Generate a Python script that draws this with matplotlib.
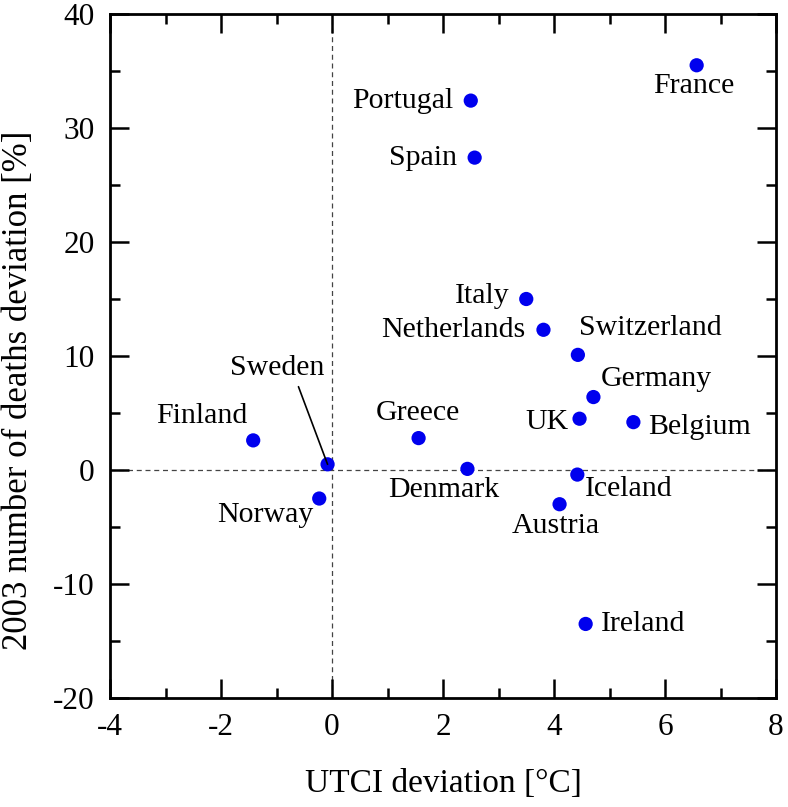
import numpy as np
import matplotlib.pyplot as plt
from matplotlib.ticker import MultipleLocator

countries = ['France', 'Portugal', 'Spain', 'Italy', 'Netherlands', 'Switzerland',
             'Germany', 'UK', 'Belgium', 'Greece', 'Denmark', 'Iceland',
             'Austria', 'Ireland', 'Finland', 'Norway', 'Sweden']
utci_dev = np.array([6.57, 2.50, 2.57, 3.50, 3.81, 4.43,
                     4.71, 4.46, 5.43, 1.56, 2.44, 4.42,
                     4.10, 4.57, -1.42, -0.23, -0.08])
deaths_dev = np.array([35.5, 32.4, 27.4, 15.0, 12.3, 10.1,
                       6.4, 4.5, 4.2, 2.8, 0.1, -0.4,
                       -3.0, -13.5, 2.6, -2.5, 0.5])

# label placement: offset in pixels from the dot, horizontal alignment
label_pos = {
    'France': (-3, -21, 'center'),
    'Portugal': (-17, 0, 'right'),
    'Spain': (-18, 0, 'right'),
    'Italy': (-17, 3, 'right'),
    'Netherlands': (-18, 0, 'right'),
    'Switzerland': (1, 27, 'left'),
    'Germany': (7, 18, 'left'),
    'UK': (-11, -3, 'right'),
    'Belgium': (15, -5, 'left'),
    'Greece': (-1, 25, 'center'),
    'Denmark': (-24, -21, 'center'),
    'Iceland': (8, -14, 'left'),
    'Austria': (-4, -22, 'center'),
    'Ireland': (15, 0, 'left'),
    'Finland': (-51, 24, 'center'),
    'Norway': (-54, -16, 'center'),
    'Sweden': (-50, 96, 'center'),
}

plt.rcParams['font.family'] = ['Liberation Serif', 'DejaVu Serif']
plt.rcParams['axes.unicode_minus'] = False

fig = plt.figure(figsize=(7.88, 8.07), dpi=100)
ax = fig.add_axes([0.1396, 0.135, 0.8452, 0.8477])

ax.axhline(0, color='#444444', lw=0.9, ls=(0, (4, 3)), zorder=1)
ax.axvline(0, color='#444444', lw=0.9, ls=(0, (4, 3)), zorder=1)

ax.scatter(utci_dev, deaths_dev, s=105, color='#0000ee', edgecolors='none', zorder=3)

for name, x, y in zip(countries, utci_dev, deaths_dev):
    dx, dy, ha = label_pos[name]
    if name == 'Sweden':
        ax.annotate(name, (x, y), xytext=(dx, dy), textcoords='offset pixels',
                    ha=ha, va='center', fontsize=21.5,
                    arrowprops=dict(arrowstyle='-', color='black', lw=1.2,
                                    relpos=(0.7, 0.0), shrinkA=2, shrinkB=0))
    else:
        ax.annotate(name, (x, y), xytext=(dx, dy), textcoords='offset pixels',
                    ha=ha, va='center', fontsize=21.5)

ax.set_xlim(-4, 8)
ax.set_ylim(-20, 40)
ax.xaxis.set_major_locator(MultipleLocator(2))
ax.xaxis.set_minor_locator(MultipleLocator(1))
ax.yaxis.set_major_locator(MultipleLocator(10))
ax.yaxis.set_minor_locator(MultipleLocator(5))
ax.tick_params(which='both', direction='in', top=True, right=True, width=1.8,
               labelsize=22.5, pad=11)
ax.tick_params(which='major', length=14)
ax.tick_params(which='minor', length=7)
for sp in ax.spines.values():
    sp.set_linewidth(2)

ax.set_xlabel('UTCI deviation [°C]', fontsize=24)
ax.set_ylabel('2003 number of deaths deviation [%]', fontsize=25)
ax.xaxis.set_label_coords(0.5, -0.103)
ax.yaxis.set_label_coords(-0.112, 0.45)

plt.savefig('out.png', dpi=100)
